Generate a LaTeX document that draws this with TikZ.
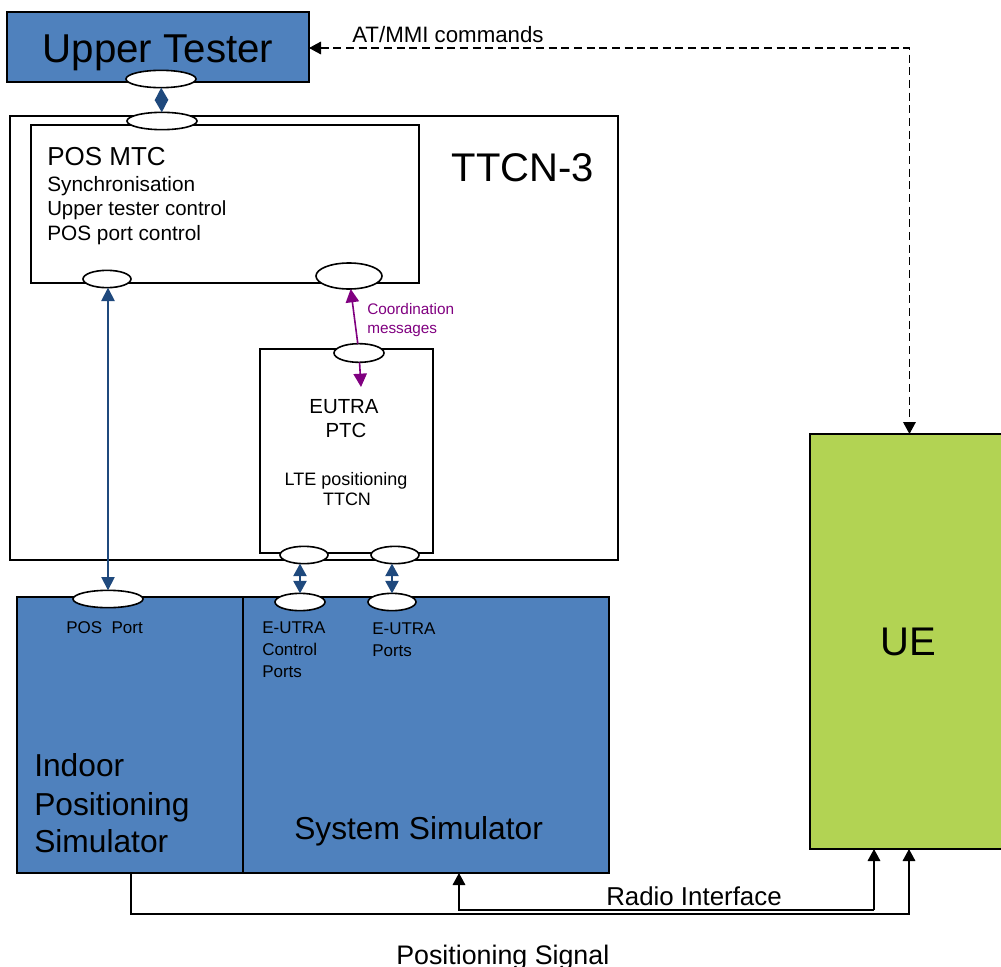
\documentclass[tikz,border=0pt]{standalone}
\usepackage{fontspec}
\setmainfont{Liberation Sans}
\usetikzlibrary{arrows.meta,positioning,shapes.geometric}
\definecolor{simblue}{HTML}{4F81BD}
\definecolor{uegreen}{HTML}{B2D353}
\definecolor{linkblue}{HTML}{1F497D}
\definecolor{coordpurple}{HTML}{800080}
\newcommand\fs[1]{\fontsize{#1pt}{#1pt}\selectfont}
\tikzset{
  x=0.75pt,y=-0.75pt,
  box/.style={draw=black,line width=1.3pt,inner sep=0pt,outer sep=0pt,anchor=north west},
  port/.style={draw=black,fill=white,ellipse,line width=1.2pt,inner sep=0pt,outer sep=0pt},
  label/.style={inner sep=0pt,anchor=base west,align=left},
  clabel/.style={inner sep=0pt,anchor=base,align=center},
  bluelink/.style={draw=linkblue,line width=1pt,{Triangle[length=10pt,width=10pt]}-{Triangle[length=10pt,width=10pt]}},
  shortlink/.style={draw=linkblue,line width=1.2pt,{Triangle[length=9.4pt,width=10pt]}-{Triangle[length=9.4pt,width=10pt]}},
  purplelink/.style={draw=coordpurple,line width=1.2pt,-{Triangle[length=10pt,width=10pt]}},
  blacklink/.style={draw=black,line width=0.85pt,-{Triangle[length=9pt,width=9.5pt]}},
  twoway/.style={{Triangle[length=9pt,width=9.5pt]}-{Triangle[length=9pt,width=9.5pt]}},
}
\begin{document}
\begin{tikzpicture}
\useasboundingbox (0,0) rectangle (1001,967);
% boxes
\node[box,fill=simblue,minimum width=226.5pt,minimum height=52.5pt] (ut) at (7,12) {};
\node[box,line width=1.1pt,minimum width=456pt,minimum height=333pt] (ttcn) at (10,116) {};
\node[box,minimum width=291pt,minimum height=118.5pt] (mtc) at (31,125) {};
\node[box,minimum width=129.75pt,minimum height=153pt] (ptc) at (260,349) {};
\node[box,fill=simblue,minimum width=169.5pt,minimum height=207pt] (ips) at (17,597) {};
\node[box,fill=simblue,minimum width=274.5pt,minimum height=207pt] (ss) at (243,597) {};
\node[box,fill=uegreen,minimum width=146pt,minimum height=311.25pt] (ue) at (810,434) {};
% ports
\node[port,minimum width=52.5pt,minimum height=13pt] (utport) at (161,79) {};
\node[port,minimum width=52.5pt,minimum height=13pt] (ttcnport) at (162,121) {};
\node[port,minimum width=36pt,minimum height=13pt] (mtcposport) at (107,279) {};
\node[port,minimum width=49.5pt,minimum height=19.5pt] (mtccoordport) at (349,276) {};
\node[port,minimum width=37.5pt,minimum height=14pt] (ptccoordport) at (359,353) {};
\node[port,minimum width=36pt,minimum height=13pt] (ptcctrlport) at (304,555) {};
\node[port,minimum width=36pt,minimum height=13pt] (ptcdataport) at (395,555) {};
\node[port,minimum width=52.5pt,minimum height=13pt] (ipsport) at (108,599) {};
\node[port,minimum width=37.5pt,minimum height=13pt] (ssctrlport) at (300,602) {};
\node[port,minimum width=36pt,minimum height=13pt] (ssdataport) at (392,602) {};
\coordinate (coordend) at (361,387);
% connectors
\draw[shortlink] (utport) -- (ttcnport);
\draw[bluelink] (ipsport.north |- mtcposport.south) -- (ipsport.north);
\draw[purplelink] (ptccoordport) -- (mtccoordport);
\draw[purplelink] (ptccoordport) -- (coordend);
\draw[shortlink] (ssctrlport.north |- ptcctrlport.south) -- (ssctrlport.north);
\draw[shortlink] (ssdataport.north |- ptcdataport.south) -- (ssdataport.north);
\draw[blacklink,twoway,dash pattern=on 6pt off 3.5pt] (ut.east |- 0,48) -| ([xshift=1.6pt]ue.north);
\coordinate (radiomid) at (874,910);
\draw[blacklink] (radiomid) -- (ue.south -| radiomid);
\draw[blacklink] (radiomid) -| (ss.south -| 459,0);
\coordinate (possigmid) at (909,914);
\draw[blacklink] (ips.south -| 131,0) |- (possigmid) -- (ue.south -| possigmid);
% text
\node[clabel] (uttext) at (158,62) {\fs{30.2}Upper Tester};
\node[clabel] (ttcntext) at (523,181) {\fs{30}TTCN-3};
\node[label] (atmmi) at (352,42) {\fs{16.7}AT/MMI commands};
\node[label] (mtctitle) at (47,165) {\fs{19.5}POS MTC};
\node[label] (mtcl1) at (47,191) {\fs{15.6}Synchronisation};
\node[label] (mtcl2) at (47,215) {\fs{15.3}Upper tester control};
\node[label] (mtcl3) at (47,240) {\fs{15.6}POS port control};
\node[label,text=coordpurple] (coordl1) at (367,314) {\fs{11.5}Coordination};
\node[label,text=coordpurple] (coordl2) at (367,333) {\fs{11.5}messages};
\node[clabel] (ptc1) at (344,413) {\fs{15.3}EUTRA};
\node[clabel] (ptc2) at (346,437) {\fs{15.3}PTC};
\node[clabel] (ptc3) at (346,485) {\fs{13.5}LTE positioning};
\node[clabel] (ptc4) at (347,505) {\fs{13.5}TTCN};
\node[label] (posport) at (66,633) {\fs{12.75}POS\ \ Port};
\node[label] (ctrl1) at (262,633) {\fs{12.75}E-UTRA};
\node[label] (ctrl2) at (262,655) {\fs{12.75}Control};
\node[label] (ctrl3) at (262,677) {\fs{12.75}Ports};
\node[label] (data1) at (372,634) {\fs{12.75}E-UTRA};
\node[label] (data2) at (372,656) {\fs{12.75}Ports};
\node[clabel] (uetext) at (908,655) {\fs{30}UE};
\node[label] (ips1) at (34,776) {\fs{23.8}Indoor};
\node[label] (ips2) at (34,815) {\fs{23.8}Positioning};
\node[label] (ips3) at (34,852) {\fs{23.8}Simulator};
\node[label] (sstext) at (294,839) {\fs{23.8}System Simulator};
\node[label] (radio) at (606,905) {\fs{19.4}Radio Interface};
\node[label] (possig) at (396,964) {\fs{20.1}Positioning Signal};
\end{tikzpicture}
\end{document}
